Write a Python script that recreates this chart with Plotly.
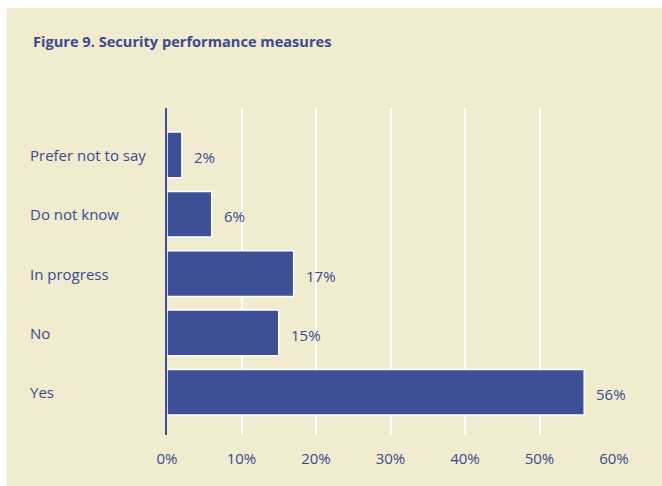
import plotly.graph_objects as go

# Survey responses: is security performance measured?
categories = ["Yes", "No", "In progress", "Do not know", "Prefer not to say"]
shares = [56, 15, 17, 6, 2]
x_ticks = [0, 10, 20, 30, 40, 50, 60]
x_tick_labels = ["0%", "10%", "20%", "30%", "40%", "50%", "60%"]

TEXT = "#3B4A8E"
BAR = "#3C4F97"
PANEL = "#F1EBD0"
FONT = "Open Sans, Noto Sans, sans-serif"

W, H = 662, 486
L, R, T, B = 167, 48, 108, 51
pw, ph = W - L - R, H - T - B


def px_to_paper_x(px):
    return (px - L) / pw


def px_to_paper_y(py):
    return (H - B - py) / ph


fig = go.Figure(
    go.Bar(
        y=categories,
        x=shares,
        orientation="h",
        marker=dict(color=BAR, line=dict(color="white", width=1.5)),
        hoverinfo="skip",
    )
)

# beige panel behind the whole figure
fig.add_shape(
    type="rect", xref="paper", yref="paper", layer="below",
    x0=px_to_paper_x(7), x1=px_to_paper_x(W + 2),
    y0=px_to_paper_y(H + 2), y1=px_to_paper_y(8),
    fillcolor=PANEL, line=dict(width=0),
)

annotations = []
# left-aligned category labels
for c in categories:
    annotations.append(dict(
        x=px_to_paper_x(28), xref="paper", y=c, yref="y",
        text=c, showarrow=False, xanchor="left", yanchor="middle",
        font=dict(family=FONT, size=15, color=TEXT),
    ))
# value labels beside each bar
for c, v in zip(categories, shares):
    annotations.append(dict(
        x=v, xref="x", y=c, yref="y", yshift=-2,
        text=f"{v}%", showarrow=False, xanchor="left", yanchor="middle",
        xshift=10, font=dict(family=FONT, size=15, color=TEXT),
    ))
# title
annotations.append(dict(
    x=px_to_paper_x(31), xref="paper", y=px_to_paper_y(41), yref="paper",
    text="<b>Figure 9. Security performance measures</b>", showarrow=False,
    xanchor="left", yanchor="middle",
    font=dict(family=FONT, size=14.6, color=TEXT),
))

fig.update_layout(
    width=W, height=H, autosize=False,
    margin=dict(l=L, r=R, t=T, b=B, pad=0),
    paper_bgcolor="white", plot_bgcolor="rgba(0,0,0,0)",
    showlegend=False, bargap=0.23,
    annotations=annotations,
    xaxis=dict(
        range=[0, 60], tickvals=x_ticks, ticktext=x_tick_labels,
        showgrid=True, gridcolor="white", gridwidth=2,
        zeroline=False, showline=False, ticks="",
        ticklabelstandoff=13,
        tickfont=dict(family=FONT, size=15, color=TEXT),
    ),
    yaxis=dict(
        range=[-0.72, 4.79], showticklabels=False, ticks="",
        showgrid=False, zeroline=False,
        showline=True, linecolor=BAR, linewidth=2,
    ),
)

fig.write_html("out.html")
